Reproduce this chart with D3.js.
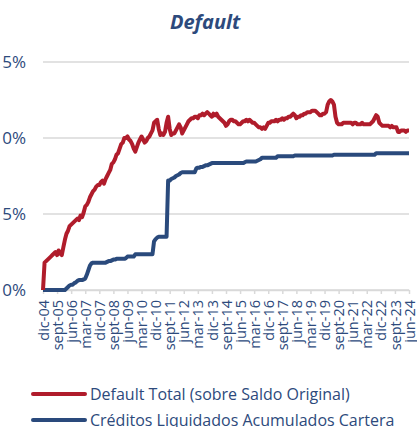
<!DOCTYPE html>
<html>
<head>
<meta charset="utf-8">
<script src="https://cdn.jsdelivr.net/npm/d3@7"></script>
<style>
  body { margin: 0; background: #fff; }
  svg { display: block; font-family: "Open Sans", sans-serif; }
</style>
</head>
<body>
<div id="chart"></div>
<script>
"use strict";

// == DATA ==
var monthNames = ["ene", "feb", "mar", "abr", "may", "jun", "jul", "ago", "sept", "oct", "nov", "dic"];

var tickLabels = ["dic-04", "sept-05", "jun-06", "mar-07", "dic-07", "sept-08", "jun-09", "mar-10",
  "dic-10", "sept-11", "jun-12", "mar-13", "dic-13", "sept-14", "jun-15", "mar-16", "dic-16",
  "sept-17", "jun-18", "mar-19", "dic-19", "sept-20", "jun-21", "mar-22", "dic-22", "sept-23", "jun-24"];

var yTicks = [0, 5, 10, 15];

// Default Total (sobre Saldo Original), % monthly dic-04 .. jun-24
var defaultTotal = [
  0.0,
  1.8, 1.9, 2.0, 2.1, 2.2, 2.3, 2.4, 2.5, 2.3, 2.6, 2.4, 2.3,            // 2005
  2.8, 3.3, 3.7, 3.9, 4.2, 4.3, 4.4, 4.5, 4.6, 4.7, 4.6, 4.9,            // 2006
  4.8, 5.1, 5.5, 5.6, 5.8, 6.1, 6.3, 6.5, 6.6, 6.8, 6.9, 6.9,            // 2007
  7.1, 7.2, 7.0, 7.3, 7.5, 7.7, 7.9, 8.3, 8.4, 8.6, 8.9, 9.0,            // 2008
  9.3, 9.6, 9.7, 10.0, 10.0, 10.1, 9.9, 9.8, 9.6, 9.3, 9.1, 9.4,         // 2009
  9.7, 9.9, 10.1, 9.9, 9.7, 9.8, 10.0, 10.1, 10.3, 10.5, 11.0, 11.1,     // 2010
  11.2, 10.6, 10.2, 10.3, 10.2, 10.4, 11.0, 11.4, 10.6, 10.2, 10.3, 10.3, // 2011
  10.5, 10.7, 10.9, 10.7, 10.3, 10.5, 10.7, 10.9, 11.1, 11.2, 11.3, 11.3, // 2012
  11.4, 11.4, 11.3, 11.5, 11.5, 11.6, 11.5, 11.6, 11.7, 11.6, 11.5, 11.4, // 2013
  11.6, 11.5, 11.6, 11.4, 11.3, 11.2, 11.1, 11.0, 10.8, 10.9, 11.1, 11.2, // 2014
  11.2, 11.1, 11.1, 11.0, 10.9, 10.9, 11.0, 11.1, 11.1, 11.2, 11.1, 11.2, // 2015
  11.1, 11.0, 11.0, 10.9, 10.8, 10.7, 10.7, 10.6, 10.7, 10.6, 10.8, 11.0, // 2016
  11.0, 11.1, 11.1, 11.1, 11.2, 11.1, 11.2, 11.2, 11.3, 11.2, 11.3, 11.3, // 2017
  11.4, 11.4, 11.5, 11.6, 11.5, 11.3, 11.4, 11.4, 11.5, 11.5, 11.6, 11.6, // 2018
  11.7, 11.7, 11.7, 11.8, 11.8, 11.8, 11.7, 11.6, 11.5, 11.5, 11.6, 11.6, // 2019
  11.7, 12.2, 12.4, 12.5, 12.4, 12.2, 11.4, 11.0, 10.9, 10.9, 10.9, 11.0, // 2020
  11.0, 11.0, 11.0, 11.0, 11.0, 10.9, 11.0, 11.0, 10.9, 10.9, 10.9, 11.0, // 2021
  10.9, 10.9, 10.9, 10.9, 10.9, 11.0, 11.1, 11.3, 11.5, 11.4, 11.0, 10.9, // 2022
  10.8, 10.8, 10.8, 10.8, 10.8, 10.7, 10.8, 10.7, 10.7, 10.7, 10.4, 10.4, // 2023
  10.5, 10.5, 10.5, 10.4, 10.5, 10.5                                      // 2024
];

// Créditos Liquidados Acumulados Cartera, % monthly dic-04 .. jun-24
var liquidados = [
  0.0,
  0, 0, 0, 0, 0, 0, 0, 0, 0, 0, 0, 0,                                     // 2005
  0, 0, 0.1, 0.2, 0.3, 0.35, 0.35, 0.45, 0.5, 0.6, 0.65, 0.65,            // 2006
  0.65, 0.7, 0.75, 1.0, 1.3, 1.6, 1.75, 1.8, 1.8, 1.8, 1.8, 1.8,          // 2007
  1.8, 1.8, 1.8, 1.8, 1.85, 1.9, 1.9, 1.95, 2.0, 2.0, 2.05, 2.05,         // 2008
  2.05, 2.05, 2.05, 2.05, 2.1, 2.2, 2.2, 2.2, 2.2, 2.2, 2.35, 2.35,       // 2009
  2.35, 2.35, 2.35, 2.35, 2.35, 2.35, 2.35, 2.35, 2.35, 2.35, 3.2, 3.35,  // 2010
  3.45, 3.5, 3.5, 3.5, 3.5, 3.5, 3.5, 7.2, 7.2, 7.3, 7.35, 7.4,           // 2011
  7.5, 7.55, 7.6, 7.7, 7.75, 7.75, 7.75, 7.75, 7.75, 7.75, 7.75, 7.75,    // 2012
  7.75, 8.0, 8.05, 8.05, 8.1, 8.1, 8.15, 8.2, 8.2, 8.25, 8.3, 8.35,       // 2013
  8.35, 8.35, 8.35, 8.35, 8.35, 8.35, 8.35, 8.35, 8.35, 8.35, 8.35, 8.35, // 2014
  8.35, 8.35, 8.35, 8.35, 8.35, 8.35, 8.35, 8.35, 8.4, 8.45, 8.45, 8.45,  // 2015
  8.45, 8.45, 8.45, 8.45, 8.5, 8.55, 8.6, 8.7, 8.7, 8.7, 8.7, 8.7,        // 2016
  8.7, 8.7, 8.7, 8.7, 8.7, 8.8, 8.8, 8.8, 8.8, 8.8, 8.8, 8.8,             // 2017
  8.8, 8.8, 8.8, 8.8, 8.85, 8.85, 8.85, 8.85, 8.85, 8.85, 8.85, 8.85,     // 2018
  8.85, 8.85, 8.85, 8.85, 8.85, 8.85, 8.85, 8.85, 8.85, 8.85, 8.85, 8.85, // 2019
  8.85, 8.85, 8.85, 8.85, 8.85, 8.9, 8.9, 8.9, 8.9, 8.9, 8.9, 8.9,        // 2020
  8.9, 8.9, 8.9, 8.9, 8.9, 8.9, 8.9, 8.9, 8.9, 8.9, 8.9, 8.9,             // 2021
  8.9, 8.9, 8.9, 8.9, 8.9, 8.9, 8.9, 8.9, 9.0, 9.0, 9.0, 9.0,             // 2022
  9.0, 9.0, 9.0, 9.0, 9.0, 9.0, 9.0, 9.0, 9.0, 9.0, 9.0, 9.0,             // 2023
  9.0, 9.0, 9.0, 9.0, 9.0, 9.0                                            // 2024
];

var seriesNames = ["Default Total (sobre Saldo Original)", "Créditos Liquidados Acumulados Cartera"];
var seriesColors = ["#b01c2b", "#2a4a7c"];

// month categories dic-04 .. jun-24
var months = d3.timeMonth.range(new Date(2004, 11, 1), new Date(2024, 6, 1))
  .map(function (d) { return monthNames[d.getMonth()] + "-" + d3.timeFormat("%y")(d); });

// == BOILERPLATE ==
var width = 417, height = 427;
var textColor = "#2d4a7c";

var svg = d3.select("#chart")
  .append("svg")
  .attr("width", width)
  .attr("height", height);

var x = d3.scalePoint()
  .domain(months)
  .range([43, 409]);

var y = d3.scaleLinear()
  .domain([0, 15])
  .range([290, 62]);

// title
svg.append("text")
  .attr("x", 205)
  .attr("y", 29)
  .attr("text-anchor", "middle")
  .attr("font-size", "20px")
  .attr("font-weight", "bold")
  .attr("font-style", "italic")
  .attr("fill", textColor)
  .text("Default");

// gridlines
svg.append("g")
  .selectAll("line")
  .data(yTicks)
  .enter()
  .append("line")
  .attr("x1", 43)
  .attr("x2", 409)
  .attr("y1", function (d) { return y(d); })
  .attr("y2", function (d) { return y(d); })
  .attr("stroke", "#d9d9d9")
  .attr("stroke-width", 1.5);

// y labels (the leading digit falls off the left edge like the original)
svg.append("g")
  .selectAll("text")
  .data(yTicks)
  .enter()
  .append("text")
  .attr("x", 26)
  .attr("y", function (d) { return y(d); })
  .attr("dy", "0.35em")
  .attr("text-anchor", "end")
  .attr("font-size", "17px")
  .attr("fill", textColor)
  .text(function (d) { return d + "%"; });

// x axis
var xAxis = d3.axisBottom(x)
  .tickValues(tickLabels)
  .tickSize(4)
  .tickSizeOuter(0);

var gx = svg.append("g")
  .attr("transform", "translate(0,290)")
  .call(xAxis);

gx.select(".domain").attr("stroke", "#d9d9d9").attr("stroke-width", 1.5);
gx.selectAll(".tick line").attr("stroke", "#d9d9d9").attr("stroke-width", 1.5);
gx.selectAll(".tick text")
  .attr("transform", "rotate(-90)")
  .attr("x", -10)
  .attr("y", 0)
  .attr("dy", "0.35em")
  .attr("text-anchor", "end")
  .attr("font-size", "14.5px")
  .attr("font-family", "Open Sans, sans-serif")
  .attr("fill", textColor);

// == LINES ==
var line = d3.line()
  .x(function (d, i) { return x(months[i]); })
  .y(function (d) { return y(d); });

[liquidados, defaultTotal].forEach(function (values, k) {
  svg.append("path")
    .datum(values)
    .attr("fill", "none")
    .attr("stroke", seriesColors[1 - k])
    .attr("stroke-width", 4)
    .attr("stroke-linejoin", "round")
    .attr("d", line);
});

// == LEGEND ==
var legend = svg.append("g")
  .selectAll("g")
  .data(seriesNames)
  .enter()
  .append("g")
  .attr("transform", function (d, i) { return "translate(0," + (394 + i * 26) + ")"; });

legend.append("line")
  .attr("x1", 33)
  .attr("x2", 85)
  .attr("stroke", function (d, i) { return seriesColors[i]; })
  .attr("stroke-width", 4)
  .attr("stroke-linecap", "round");

legend.append("text")
  .attr("x", 90)
  .attr("y", 6)
  .attr("font-size", "16px")
  .attr("fill", textColor)
  .text(function (d) { return d; });
</script>
</body>
</html>
